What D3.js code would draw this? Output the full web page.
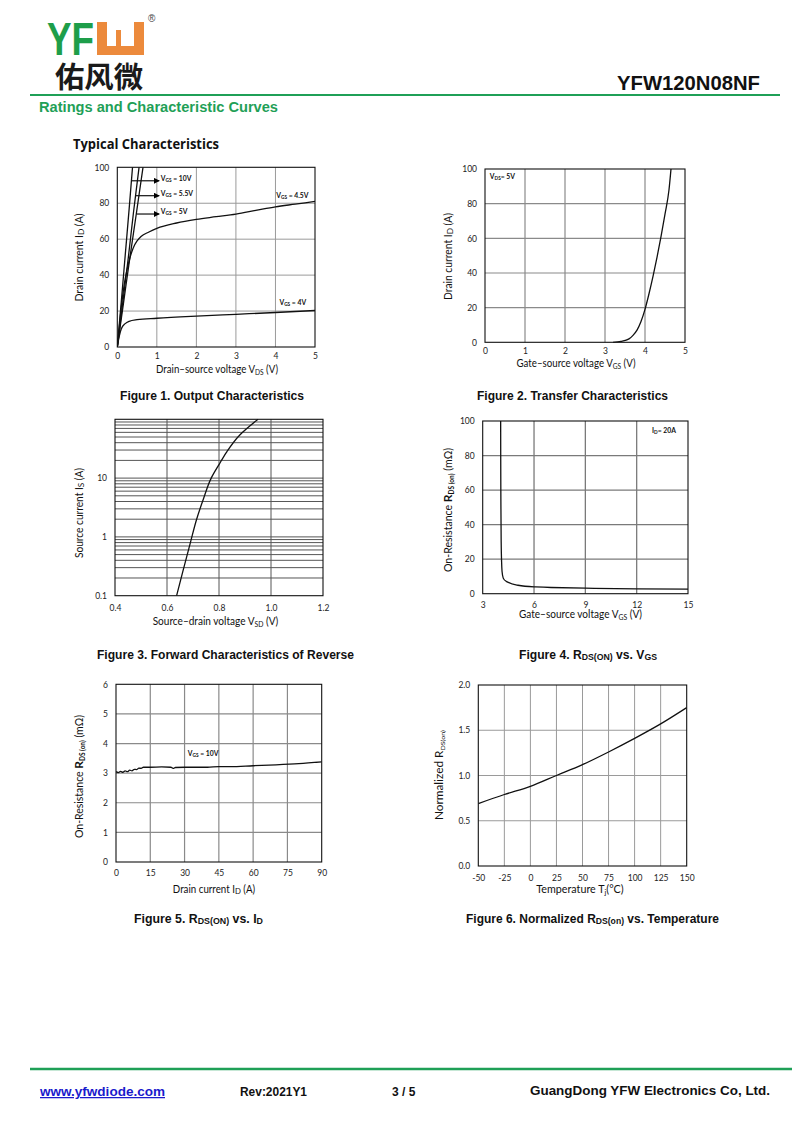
<!DOCTYPE html>
<html><head><meta charset="utf-8">
<script src="https://cdn.jsdelivr.net/npm/d3@7"></script>
<style>body{margin:0;background:#fff}svg{display:block}</style>
</head><body><svg id="page" width="800" height="1131"></svg>
<script>
// ---------------- DATA ----------------
// Figure 1 : Output characteristics  [Vds (V), Id (A)]
const fig1Vgs10 = [[0,0],[0.1,25],[0.2,51],[0.3,77],[0.385,100]];
const fig1Vgs55 = [[0,0],[0.14,25],[0.28,50],[0.41,75],[0.55,100]];
const fig1Vgs5  = [[0,0],[0.16,25],[0.32,50],[0.48,74],[0.65,100]];
const fig1Vgs45 = [[0,0],[0.05,11],[0.1,22],[0.15,31],[0.2,38],[0.3,48],[0.4,55],[0.5,59],[0.6,61.5],[0.8,64],[1,66],[1.5,69],[2,71],[2.5,72.5],[3,74],[3.5,76],[4,78],[4.5,79.5],[5,81]];
const fig1Vgs4  = [[0,0],[0.05,6],[0.1,10],[0.2,13],[0.3,14.3],[0.5,15.2],[1,16],[2,17.2],[3,18.2],[4,19.2],[5,20.3]];
const fig1XTicks = [0,1,2,3,4,5];
const fig1YTicks = [0,20,40,60,80,100];

// Figure 2 : Transfer characteristics [Vgs (V), Id (A)]
const fig2Curve = [[3.2,0],[3.4,0.5],[3.6,2],[3.7,4],[3.8,7],[3.9,12],[4.0,19],[4.1,28],[4.2,38],[4.3,49],[4.4,61],[4.5,74],[4.6,88],[4.65,100]];
const fig2XTicks = [0,1,2,3,4,5];
const fig2YTicks = [0,20,40,60,80,100];

// Figure 3 : Forward characteristics of reverse diode [Vsd (V), Is (A)]
const fig3Curve = [[0.637,0.1],[0.66,0.25],[0.69,0.8],[0.714,2],[0.74,4.4],[0.77,10],[0.8,17],[0.83,28],[0.88,54],[0.95,100]];
const fig3XTicks = [0.4,0.6,0.8,1.0,1.2];
const fig3YTicks = [0.1,1,10];
const fig3YGrid = [0.2,0.3,0.4,0.5,0.6,0.7,0.8,0.9,1,2,3,4,5,6,7,8,9,10,20,30,40,50,60,70,80,90];

// Figure 4 : Rds(on) vs Vgs [Vgs (V), Rds (mOhm)]
const fig4Curve = [[4.05,100],[4.06,60],[4.08,30],[4.1,20],[4.13,13],[4.2,9],[4.4,7],[5,5],[6,4],[7,3.6],[9,3.2],[12,2.8],[15,2.6]];
const fig4XTicks = [3,6,9,12,15];
const fig4YTicks = [0,20,40,60,80,100];

// Figure 5 : Rds(on) vs Id [Id (A), Rds (mOhm)]
const fig5Curve = [[0,3.05],[1,3.02],[2,3.06],[3,3.03],[4,3.08],[5,3.05],[6,3.1],[7,3.08],[8,3.13],[9,3.12],[10,3.17],[11,3.16],[12,3.2],[15,3.2],[20,3.21],[24,3.2],[25,3.16],[26,3.19],[30,3.2],[40,3.2],[45,3.22],[50,3.22],[60,3.25],[70,3.28],[80,3.32],[90,3.38]];
const fig5XTicks = [0,15,30,45,60,75,90];
const fig5YTicks = [0,1,2,3,4,5,6];

// Figure 6 : Normalized Rds(on) vs temperature [Tj (C), ratio]
const fig6Curve = [[-50,0.69],[-25,0.79],[0,0.88],[25,1.0],[50,1.12],[75,1.26],[100,1.41],[125,1.57],[150,1.75]];
const fig6XTicks = [-50,-25,0,25,50,75,100,125,150];
const fig6YTicks = [0,0.5,1.0,1.5,2.0];

// ---------------- DRAWING ----------------
const svg = d3.select('#page');
const CF = "Lato, 'Open Sans', sans-serif";
const AF = "'Liberation Sans', Arial, sans-serif";

svg.append('defs').append('marker')
  .attr('id','arr').attr('viewBox','0 0 10 10').attr('refX',9).attr('refY',5)
  .attr('markerWidth',5).attr('markerHeight',5).attr('orient','auto')
  .append('path').attr('d','M0,0 L10,5 L0,10 z').attr('fill','#000');

function rich(t, parts, size){
  let shift = 0;
  parts.forEach(p=>{
    const target = p.sub ? size*(p.shift!=null?p.shift:0.22) : 0;
    const ts = t.append('tspan').text(p.t).attr('dy', target-shift);
    shift = target;
    if (p.sub) ts.attr('font-size', size*(p.scale||0.68));
    if (p.size) ts.attr('font-size', p.size);
    if (p.bold) ts.attr('font-weight','bold');
  });
  return t;
}

let clipId = 0;
function chart(o){
  const g = svg.append('g');
  const x = (o.xType==='log'?d3.scaleLog():d3.scaleLinear()).domain(o.xDomain).range([o.L,o.R]);
  const y = (o.yType==='log'?d3.scaleLog():d3.scaleLinear()).domain(o.yDomain).range([o.B,o.T]);
  const gs = o.gridStroke||'#9a9a9a', gw = o.gridWidth||1;
  g.selectAll('.vg').data(o.xGrid).join('line')
    .attr('x1',d=>x(d)).attr('x2',d=>x(d)).attr('y1',o.T).attr('y2',o.B)
    .attr('stroke',gs).attr('stroke-width',gw);
  g.selectAll('.hg').data(o.yGrid).join('line')
    .attr('y1',d=>y(d)).attr('y2',d=>y(d)).attr('x1',o.L).attr('x2',o.R)
    .attr('stroke',gs).attr('stroke-width',gw);
  g.append('rect').attr('x',o.L).attr('y',o.T).attr('width',o.R-o.L).attr('height',o.B-o.T)
    .attr('fill','none').attr('stroke','#111').attr('stroke-width',1.1);
  const ax = g.append('g').attr('transform',`translate(0,${o.B})`)
    .call(d3.axisBottom(x).tickValues(o.xTicks).tickSize(0).tickPadding(o.xPad||7).tickFormat(o.xFmt||(d=>String(d))));
  const ay = g.append('g').attr('transform',`translate(${o.L},0)`)
    .call(d3.axisLeft(y).tickValues(o.yTicks).tickSize(0).tickPadding(8).tickFormat(o.yFmt||(d=>String(d))));
  [ax,ay].forEach(a=>{a.select('.domain').remove();a.selectAll('text').attr('font-family',CF).attr('font-size',8.5).attr('fill','#222');});
  const cid = 'clip'+(clipId++);
  g.append('clipPath').attr('id',cid).append('rect').attr('x',o.L).attr('y',o.T-0.5).attr('width',o.R-o.L).attr('height',o.B-o.T+1);
  const line = d3.line().x(d=>x(d[0])).y(d=>y(d[1])).curve(d3.curveMonotoneX);
  const lineY = d3.line().x(d=>x(d[0])).y(d=>y(d[1])).curve(d3.curveMonotoneY);
  o.series.forEach(s=>{
    g.append('path').attr('d',(s.mono==='y'?lineY:line)(s.data)).attr('fill','none')
      .attr('stroke','#111').attr('stroke-width',1.3).attr('clip-path',`url(#${cid})`);
  });
  (o.notes||[]).forEach(n=>{
    if (n.arrow) g.append('line').attr('x1',x(n.arrow[0])).attr('x2',x(n.arrow[1])).attr('y1',y(n.y)).attr('y2',y(n.y))
      .attr('stroke','#111').attr('stroke-width',1.2).attr('marker-end','url(#arr)');
    rich(g.append('text').attr('x',x(n.x)).attr('y',y(n.y)).attr('dy','0.35em')
      .attr('font-family',CF).attr('font-size',6.8).attr('font-weight','bold').attr('fill','#111'), n.parts, 6.8);
  });
  // titles
  const xt = g.append('text').attr('x',o.xTitle.cx).attr('y',o.xTitle.y).attr('text-anchor','middle')
    .attr('font-family',CF).attr('font-size',10.5).attr('fill','#111');
  rich(xt,o.xTitle.parts,10.5);
  if (o.xTitle.len) xt.attr('textLength',o.xTitle.len).attr('lengthAdjust','spacingAndGlyphs');
  const yt = g.append('text').attr('transform',`translate(${o.yTitle.x},${o.yTitle.cy}) rotate(-90)`)
    .attr('text-anchor','middle').attr('dy','0.35em')
    .attr('font-family',CF).attr('font-size',10.5).attr('fill','#111');
  rich(yt,o.yTitle.parts,10.5);
  if (o.yTitle.len) yt.attr('textLength',o.yTitle.len).attr('lengthAdjust','spacingAndGlyphs');
  return {x,y,g};
}

// Figure 1
chart({L:117.3,R:315,T:167.3,B:347,xDomain:[0,5],yDomain:[0,100],
  xTicks:fig1XTicks,yTicks:fig1YTicks,xGrid:[1,2,3,4],yGrid:[20,40,60,80],xPad:6,
  series:[{data:fig1Vgs10},{data:fig1Vgs55},{data:fig1Vgs5},{data:fig1Vgs45},{data:fig1Vgs4}],
  notes:[
    {x:1.1,y:92.5,arrow:[0.36,1.06],parts:[{t:'V'},{t:'GS',sub:true,scale:0.7,shift:0.15},{t:' = 10V'}]},
    {x:1.1,y:84.2,arrow:[0.47,1.06],parts:[{t:'V'},{t:'GS',sub:true,scale:0.7,shift:0.15},{t:' = 5.5V'}]},
    {x:1.1,y:74,arrow:[0.49,1.06],parts:[{t:'V'},{t:'GS',sub:true,scale:0.7,shift:0.15},{t:' = 5V'}]},
    {x:4.02,y:83,parts:[{t:'V'},{t:'GS',sub:true,scale:0.7,shift:0.15},{t:' = 4.5V'}]},
    {x:4.1,y:23.5,parts:[{t:'V'},{t:'GS',sub:true,scale:0.7,shift:0.15},{t:' = 4V'}]}
  ],
  xTitle:{cx:217,y:373,len:122,parts:[{t:'Drain–source voltage V'},{t:'DS',sub:true},{t:' (V)'}]},
  yTitle:{x:83,cy:257.5,len:88,parts:[{t:'Drain current I'},{t:'D',sub:true,shift:0.05,scale:0.8},{t:' (A)'}]}
});

// Figure 2
chart({L:485,R:685,T:169,B:342.3,xDomain:[0,5],yDomain:[0,100],
  xTicks:fig2XTicks,yTicks:fig2YTicks,xGrid:[1,2,3,4],yGrid:[20,40,60,80],xPad:6,gridStroke:'#8a8a8a',gridWidth:1.2,
  series:[{data:fig2Curve}],
  notes:[{x:0.12,y:94,parts:[{t:'V'},{t:'DS',sub:true,scale:0.7,shift:0.15},{t:'= 5V'}]}],
  xTitle:{cx:576,y:367,len:119,parts:[{t:'Gate–source voltage V'},{t:'GS',sub:true},{t:' (V)'}]},
  yTitle:{x:452,cy:256.5,len:87,parts:[{t:'Drain current I'},{t:'D',sub:true,shift:0.05,scale:0.8},{t:' (A)'}]}
});

// Figure 3
chart({L:115,R:323,T:419.3,B:595.7,xDomain:[0.4,1.2],yDomain:[0.1,100],yType:'log',
  xTicks:fig3XTicks,yTicks:fig3YTicks,xGrid:[0.6,0.8,1.0],yGrid:fig3YGrid,xPad:9,
  gridStroke:'#555',gridWidth:1,xFmt:d3.format('.1f'),
  series:[{data:fig3Curve,mono:'y'}],
  xTitle:{cx:215.5,y:625,len:125.6,parts:[{t:'Source–drain voltage V'},{t:'SD',sub:true},{t:' (V)'}]},
  yTitle:{x:83,cy:513,len:90,parts:[{t:'Source current I'},{t:'S',sub:true,shift:0.05,scale:0.8},{t:' (A)'}]}
});

// Figure 4
chart({L:482.7,R:688,T:421,B:593.7,xDomain:[3,15],yDomain:[0,100],
  xTicks:fig4XTicks,yTicks:fig4YTicks,xGrid:[6,9,12],yGrid:[20,40,60,80],xPad:8,gridStroke:'#7a7a7a',gridWidth:1.3,
  series:[{data:fig4Curve,mono:'y'}],
  notes:[{x:12.9,y:93,parts:[{t:'I'},{t:'D',sub:true,scale:0.7,shift:0.15},{t:'= 20A'}]}],
  xTitle:{cx:580.5,y:618,len:123,parts:[{t:'Gate–source voltage V'},{t:'GS',sub:true},{t:' (V)'}]},
  yTitle:{x:452,cy:510,len:124,parts:[{t:'On-Resistance '},{t:'R',bold:true,size:12},{t:'DS (on)',sub:true,bold:true,scale:0.62},{t:' (mΩ)'}]}
});

// Figure 5
chart({L:116,R:321.7,T:684.3,B:862,xDomain:[0,90],yDomain:[0,6],
  xTicks:fig5XTicks,yTicks:fig5YTicks,xGrid:[15,30,45,60,75],yGrid:[1,2,3,4,5],xPad:8,gridStroke:'#8a8a8a',gridWidth:1.2,
  series:[{data:fig5Curve}],
  notes:[{x:31.4,y:3.58,parts:[{t:'V'},{t:'GS',sub:true,scale:0.7,shift:0.15},{t:' = 10V'}]}],
  xTitle:{cx:214,y:893,len:82.3,parts:[{t:'Drain current I'},{t:'D',sub:true,shift:0.05,scale:0.8},{t:' (A)'}]},
  yTitle:{x:83,cy:776.5,len:123,parts:[{t:'On-Resistance  '},{t:'R',bold:true,size:12},{t:'DS (on)',sub:true,bold:true,scale:0.62},{t:' (mΩ)'}]}
});

// Figure 6
chart({L:478.3,R:686.7,T:685,B:866,xDomain:[-50,150],yDomain:[0,2],
  xTicks:fig6XTicks,yTicks:fig6YTicks,xGrid:[-25,0,25,50,75,100,125],yGrid:[0.5,1,1.5],xPad:9,
  yFmt:d3.format('.1f'),
  series:[{data:fig6Curve}],
  xTitle:{cx:580,y:893,len:87.3,parts:[{t:'Temperature T'},{t:'j',sub:true},{t:'(°C)'}]},
  yTitle:{x:443,cy:775,len:90,parts:[{t:'Normalized R'},{t:'DS(on)',sub:true,scale:0.6}]}
});

// ---------------- PAGE TEXT ----------------
function ptext(x,y,str,opt){
  const t = svg.append('text').attr('x',x).attr('y',y)
    .attr('font-family',opt.family||AF).attr('font-size',opt.size).attr('font-weight',opt.weight||'bold')
    .attr('fill',opt.fill||'#111').attr('text-anchor',opt.anchor||'start');
  if (opt.parts) rich(t,opt.parts,opt.size); else t.text(str);
  if (opt.len) t.attr('textLength',opt.len).attr('lengthAdjust','spacingAndGlyphs');
  if (opt.underline) t.attr('text-decoration','underline');
  return t;
}
// logo
ptext(47,55,'YF',{size:46,fill:'#1e9e4a',len:47,family:AF});
svg.append('path').attr('fill','#ec8a3c')
  .attr('d','M97,22 L107,22 L107,46 L134,46 L134,22 L144,22 L144,55 L97,55 Z');
svg.append('rect').attr('x',116).attr('y',30).attr('width',5).attr('height',16).attr('fill','#ec8a3c');
ptext(148,22,'®',{size:10,weight:'normal',fill:'#444'});
ptext(55,88,'佑风微',{size:29,weight:'bold',fill:'#1a1a1a',family:"'Noto Sans CJK SC', sans-serif",len:88});
// header line
svg.append('line').attr('x1',30).attr('x2',780).attr('y1',95).attr('y2',95).attr('stroke','#1fa057').attr('stroke-width',2);
ptext(39,112,'Ratings and Characteristic Curves',{size:14,fill:'#1fa057',len:239});
ptext(760,90,'YFW120N08NF',{size:20,anchor:'end',len:143});
ptext(73,149,'Typical Characteristics',{size:14.5,family:"'Open Sans', Lato, sans-serif",len:146});

// captions
const capSub = (s)=>({t:s,sub:true,scale:0.72,shift:0.05});
ptext(120,400,null,{size:12,len:184,parts:[{t:'Figure 1. Output Characteristics'}]});
ptext(477,400,null,{size:12,len:191,parts:[{t:'Figure 2. Transfer Characteristics'}]});
ptext(97,659,null,{size:12,len:257,parts:[{t:'Figure 3. Forward Characteristics of Reverse'}]});
ptext(519,659,null,{size:12,len:138,parts:[{t:'Figure 4. R'},capSub('DS(ON)'),{t:'  vs. V'},capSub('GS')]});
ptext(134,923,null,{size:12,len:129,parts:[{t:'Figure 5. R'},capSub('DS(ON)'),{t:' vs. I'},capSub('D')]});
ptext(466,923,null,{size:12,len:253,parts:[{t:'Figure 6. Normalized R'},capSub('DS(on)'),{t:' vs. Temperature'}]});

// footer
svg.append('line').attr('x1',30).attr('x2',792).attr('y1',1069).attr('y2',1069).attr('stroke','#1fa057').attr('stroke-width',2.5);
ptext(40,1096,'www.yfwdiode.com',{size:12.5,fill:'#1a1acc',len:125,underline:true});
ptext(240,1096,'Rev:2021Y1',{size:12,len:67});
ptext(392,1096,'3 / 5',{size:12});
ptext(530,1095,'GuangDong YFW Electronics Co, Ltd.',{size:13,len:240});
</script></body></html>
